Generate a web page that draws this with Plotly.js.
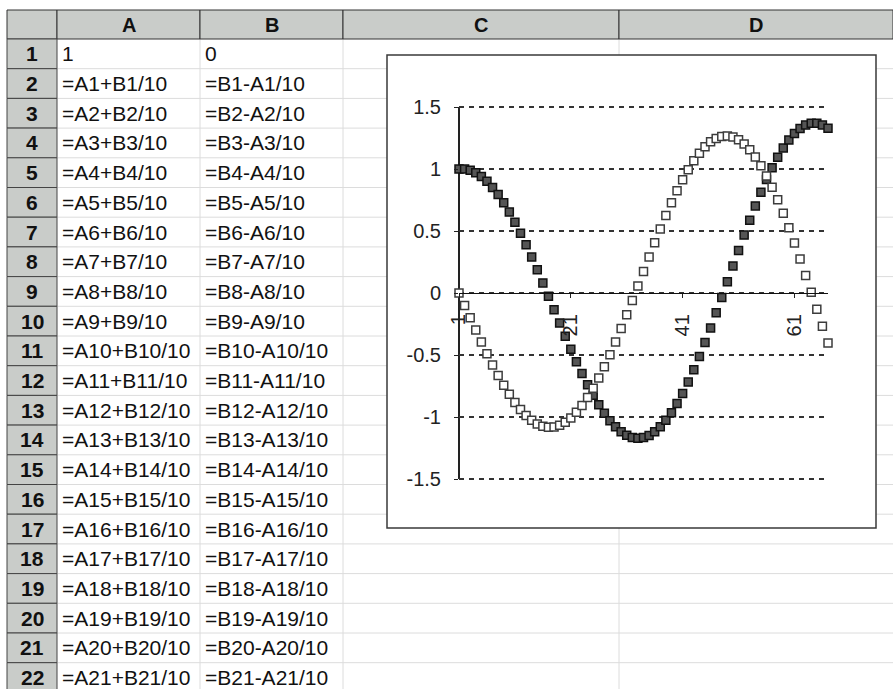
<!DOCTYPE html>
<html>
<head>
<meta charset="utf-8">
<script src="https://cdn.plot.ly/plotly-3.0.1.min.js"></script>
<style>
  html, body { margin: 0; padding: 0; background: #ffffff; }
  #chart { width: 893px; height: 689px; }
</style>
</head>
<body>
<div id="chart"></div>
<script>
// ---------- spreadsheet text ----------
const colLabels = ['A', 'B', 'C', 'D'];
const rowLabels = ['1','2','3','4','5','6','7','8','9','10','11','12','13','14','15','16','17','18','19','20','21','22'];
const colAText = ['1','=A1+B1/10','=A2+B2/10','=A3+B3/10','=A4+B4/10','=A5+B5/10','=A6+B6/10','=A7+B7/10','=A8+B8/10','=A9+B9/10',
  '=A10+B10/10','=A11+B11/10','=A12+B12/10','=A13+B13/10','=A14+B14/10','=A15+B15/10','=A16+B16/10','=A17+B17/10',
  '=A18+B18/10','=A19+B19/10','=A20+B20/10','=A21+B21/10'];
const colBText = ['0','=B1-A1/10','=B2-A2/10','=B3-A3/10','=B4-A4/10','=B5-A5/10','=B6-A6/10','=B7-A7/10','=B8-A8/10','=B9-A9/10',
  '=B10-A10/10','=B11-A11/10','=B12-A12/10','=B13-A13/10','=B14-A14/10','=B15-A15/10','=B16-A16/10','=B17-A17/10',
  '=B18-A18/10','=B19-A19/10','=B20-A20/10','=B21-A21/10'];

// ---------- chart data ----------
const categories = [1,2,3,4,5,6,7,8,9,10,11,12,13,14,15,16,17,18,19,20,21,22,23,24,25,26,27,28,29,30,31,32,33,34,
  35,36,37,38,39,40,41,42,43,44,45,46,47,48,49,50,51,52,53,54,55,56,57,58,59,60,61,62,63,64,65,66,67];
const seriesA = [1, 1, 0.99, 0.97, 0.9401, 0.9005, 0.8515, 0.7935, 0.727, 0.6525, 0.5708, 0.4825, 0.3886, 0.2898,
  0.1871, 0.0816, -0.0259, -0.1341, -0.2421, -0.3488, -0.453, -0.5538, -0.65, -0.7407, -0.8248, -0.9016, -0.9701,
  -1.0296, -1.0794, -1.119, -1.1477, -1.1652, -1.1712, -1.1656, -1.1483, -1.1193, -1.0789, -1.0272, -0.9648, -0.8921,
  -0.8097, -0.7185, -0.6191, -0.5125, -0.3998, -0.2819, -0.16, -0.0353, 0.091, 0.2176, 0.3434, 0.4669, 0.587, 0.7025,
  0.8121, 0.9147, 1.0091, 1.0944, 1.1696, 1.2339, 1.2864, 1.3267, 1.354, 1.3681, 1.3687, 1.3555, 1.3287];
const seriesB = [0, -0.1, -0.2, -0.299, -0.396, -0.49, -0.5801, -0.6652, -0.7446, -0.8173, -0.8825, -0.9396, -0.9878,
  -1.0267, -1.0557, -1.0744, -1.0825, -1.08, -1.0665, -1.0423, -1.0075, -0.9622, -0.9068, -0.8418, -0.7677, -0.6852,
  -0.5951, -0.4981, -0.3951, -0.2871, -0.1753, -0.0605, 0.056, 0.1732, 0.2897, 0.4046, 0.5165, 0.6244, 0.7271, 0.8236,
  0.9128, 0.9938, 1.0656, 1.1275, 1.1788, 1.2188, 1.2469, 1.2629, 1.2665, 1.2574, 1.2356, 1.2013, 1.1546, 1.0959,
  1.0256, 0.9444, 0.853, 0.752, 0.6426, 0.5256, 0.4023, 0.2736, 0.141, 0.0056, -0.1313, -0.2681, -0.4037];
const xTickVals = [1, 21, 41, 61];
const xTickText = ['1', '21', '41', '61'];
const yTickVals = [-1.5, -1, -0.5, 0, 0.5, 1, 1.5];
const yTickText = ['-1.5', '-1', '-0.5', '0', '0.5', '1', '1.5'];

// ---------- geometry (pixels) ----------
const W = 893, H = 689;
const PX = p => p / W;
const PY = p => 1 - p / H;
const headTop = 10, headBot = 39, rowH = 29.7, leftEdge = 7, rowHeadRight = 57;
const colEdges = [57, 200, 343, 619, 893];
const FONT = 'Liberation Sans, Arial, sans-serif';
const HEAD_FILL = '#c9ccc9';

const shapes = [];
const annotations = [];

// light cell gridlines
for (let k = 1; k <= 23; k++) {
  const y = headBot + k * rowH;
  shapes.push({type: 'line', xref: 'paper', yref: 'paper', x0: PX(rowHeadRight), x1: PX(W), y0: PY(y), y1: PY(y),
    line: {color: '#dcdcdc', width: 1}, layer: 'below'});
}
for (let c = 1; c < colEdges.length - 1; c++) {
  shapes.push({type: 'line', xref: 'paper', yref: 'paper', x0: PX(colEdges[c]), x1: PX(colEdges[c]), y0: PY(headBot), y1: PY(H),
    line: {color: '#dcdcdc', width: 1}, layer: 'below'});
}
// corner + column headers
shapes.push({type: 'rect', xref: 'paper', yref: 'paper', x0: PX(leftEdge), x1: PX(rowHeadRight), y0: PY(headBot), y1: PY(headTop),
  fillcolor: HEAD_FILL, line: {color: '#333', width: 1}, layer: 'below'});
for (let c = 0; c < colLabels.length; c++) {
  shapes.push({type: 'rect', xref: 'paper', yref: 'paper', x0: PX(colEdges[c]), x1: PX(colEdges[c + 1]), y0: PY(headBot), y1: PY(headTop),
    fillcolor: HEAD_FILL, line: {color: '#333', width: 1}, layer: 'below'});
  annotations.push({xref: 'paper', yref: 'paper', x: PX((colEdges[c] + colEdges[c + 1]) / 2), y: PY((headTop + headBot) / 2),
    text: '<b>' + colLabels[c] + '</b>', showarrow: false, xanchor: 'center', yanchor: 'middle',
    font: {family: FONT, size: 20, color: '#111'}});
}
// row headers and cell text
for (let r = 0; r < rowLabels.length; r++) {
  const top = headBot + r * rowH, bot = top + rowH, mid = (top + bot) / 2;
  shapes.push({type: 'rect', xref: 'paper', yref: 'paper', x0: PX(leftEdge), x1: PX(rowHeadRight), y0: PY(bot), y1: PY(top),
    fillcolor: HEAD_FILL, line: {color: '#444', width: 1}, layer: 'below'});
  annotations.push({xref: 'paper', yref: 'paper', x: PX((leftEdge + rowHeadRight) / 2), y: PY(mid),
    text: '<b>' + rowLabels[r] + '</b>', showarrow: false, xanchor: 'center', yanchor: 'middle',
    font: {family: FONT, size: 21, color: '#111'}});
  annotations.push({xref: 'paper', yref: 'paper', x: PX(60), y: PY(mid), text: colAText[r], showarrow: false,
    xanchor: 'left', yanchor: 'middle', font: {family: FONT, size: 21, color: '#111'}});
  annotations.push({xref: 'paper', yref: 'paper', x: PX(203), y: PY(mid), text: colBText[r], showarrow: false,
    xanchor: 'left', yanchor: 'middle', font: {family: FONT, size: 21, color: '#111'}});
}
// chart frame
shapes.push({type: 'rect', xref: 'paper', yref: 'paper', x0: PX(387), x1: PX(876), y0: PY(528), y1: PY(55),
  fillcolor: '#ffffff', line: {color: '#3a3a3a', width: 1.5}, layer: 'below'});

// plot area: 1.5 -> 107px, -1.5 -> 479px (124 px per unit), range padded slightly so edge gridlines draw
const yPad = 0.012;
const pxPerUnit = (479 - 107) / 3;
const yDom = [PY(479 + yPad * pxPerUnit), PY(107 - yPad * pxPerUnit)];
const xDom = [PX(459), PX(828)];

// value axis spine (pixel frame line from the 1.5 gridline to the -1.5 gridline)
shapes.push({type: 'line', xref: 'paper', yref: 'paper', x0: PX(459), x1: PX(459), y0: PY(479), y1: PY(107),
  line: {color: '#222', width: 2}, layer: 'between'});

const traces = [
  {x: categories, y: seriesA, type: 'scatter', mode: 'markers', name: 'A', cliponaxis: false,
    marker: {symbol: 'square', size: 8, color: '#555555', line: {color: '#111111', width: 1.5}}},
  {x: categories, y: seriesB, type: 'scatter', mode: 'markers', name: 'B', cliponaxis: false,
    marker: {symbol: 'square', size: 8, color: '#ffffff', line: {color: '#3c3c3c', width: 1.5}}}
];

const layout = {
  width: W, height: H,
  margin: {l: 0, r: 0, t: 0, b: 0, pad: 0},
  paper_bgcolor: '#ffffff', plot_bgcolor: 'rgba(0,0,0,0)',
  showlegend: false,
  font: {family: FONT, color: '#222'},
  xaxis: {
    domain: xDom, range: [1, 67], anchor: 'free', position: (yDom[0] + yDom[1]) / 2,
    showline: true, linecolor: '#111', linewidth: 1.2, showgrid: false, zeroline: false,
    ticks: 'outside', ticklen: 4, tickcolor: '#222', tickvals: xTickVals, ticktext: xTickText,
    tickangle: -90, ticklabelstandoff: 8, tickfont: {family: FONT, size: 20, color: '#222'}, fixedrange: true
  },
  yaxis: {
    domain: yDom, range: [-1.5 - yPad, 1.5 + yPad], anchor: 'x', side: 'left',
    showline: false, zeroline: false,
    showgrid: true, gridcolor: '#333', gridwidth: 1.3, griddash: '5px,5px',
    ticks: 'outside', ticklen: 4, tickcolor: '#222', tickvals: yTickVals, ticktext: yTickText,
    ticklabelstandoff: 9, tickfont: {family: FONT, size: 20, color: '#222'}, fixedrange: true
  },
  shapes: shapes,
  annotations: annotations
};

Plotly.newPlot('chart', traces, layout, {staticPlot: true, displayModeBar: false});
</script>
</body>
</html>
